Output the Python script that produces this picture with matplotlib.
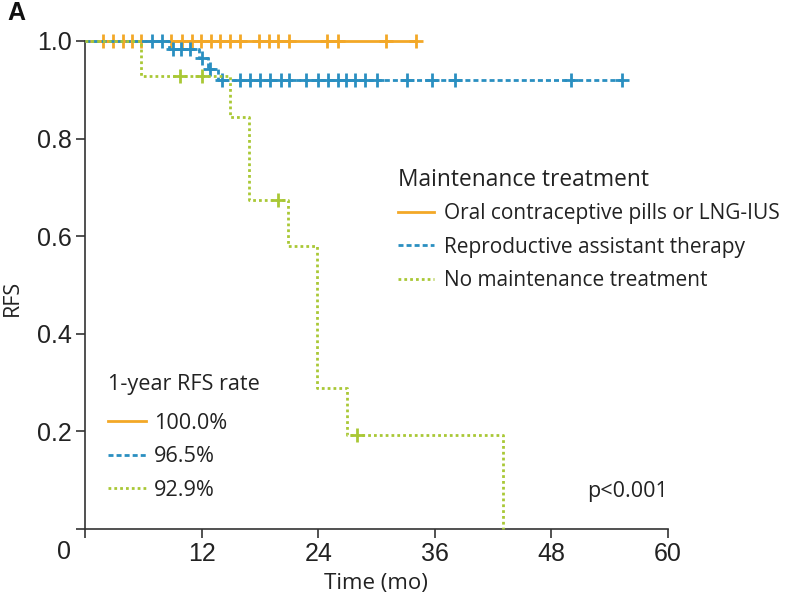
import numpy as np
import matplotlib
matplotlib.use("Agg")
import matplotlib.pyplot as plt
from matplotlib.lines import Line2D

plt.rcParams['lines.scale_dashes'] = False

W, H = 791, 601

# colours
ORANGE = "#F3A827"
BLUE = "#2A8FC1"
GREEN = "#A9C835"

# Kaplan-Meier steps (months, RFS)
orange_t = [0, 34.1]
orange_s = [1.0, 1.0]
orange_cens = [1.9, 2.9, 3.9, 4.8, 5.8, 8.9, 10.0, 11.0, 11.9, 13.0, 13.9, 14.9,
               16.0, 17.9, 18.9, 19.9, 21.0, 24.9, 26.0, 31.0, 34.1]

blue_t = [0, 8.6, 11.7, 12.7, 13.7, 55.3]
blue_s = [1.0, 0.983, 0.965, 0.943, 0.921, 0.921]
blue_cens = [6.9, 7.9, 9.1, 9.9, 10.8, 12.0, 12.9, 14.1, 16.0, 17.0, 18.0, 19.0,
             20.2, 21.0, 22.7, 24.0, 25.0, 26.0, 26.9, 27.8, 28.8, 30.0, 33.1,
             35.7, 38.1, 50.0, 55.3]

green_t = [0, 5.8, 14.9, 16.9, 20.85, 23.9, 27.0, 43.0]
green_s = [1.0, 0.929, 0.844, 0.675, 0.579, 0.289, 0.193, 0.0]
green_cens = [9.8, 12.0, 19.9, 28.0]

group_labels = ["Oral contraceptive pills or LNG-IUS",
                "Reproductive assistant therapy",
                "No maintenance treatment"]
rate_labels = ["100.0%", "96.5%", "92.9%"]

x_ticks = [0, 12, 24, 36, 48, 60]
y_ticks = [0, 0.2, 0.4, 0.6, 0.8, 1.0]


def px(x, y):
    return x / W, 1 - y / H


def surv_at(t, times, surv):
    i = np.searchsorted(times, t, side="right") - 1
    return surv[i]


fig = plt.figure(figsize=(W / 100, H / 100), dpi=100, facecolor="white")
ax = fig.add_axes([85 / W, 1 - 529 / H, (668 - 85) / W, (529 - 41) / H])

styles = [
    (orange_t, orange_s, orange_cens, ORANGE, "-"),
    (blue_t, blue_s, blue_cens, BLUE, (0, (3.6, 2.2))),
    (green_t, green_s, green_cens, GREEN, (0, (2.0, 2.2))),
]
handles = []
for z, (t, s, c, col, ls) in enumerate(styles):
    ax.step(t, s, where="post", color=col, lw=2.0, ls=ls, clip_on=False,
            zorder=3 + z, dash_capstyle="butt", solid_capstyle="butt")
    cy = [surv_at(ci, t, s) for ci in c]
    ax.plot(c, cy, ls="none", marker="+", ms=10, mew=2.0, color=col,
            clip_on=False, zorder=3 + z)
    handles.append(Line2D([], [], color=col, lw=2.0, ls=ls, dash_capstyle="butt"))

ax.set_xlim(0, 60)
ax.set_ylim(0, 1.0)
for sp in ["top", "right"]:
    ax.spines[sp].set_visible(False)
for sp in ["left", "bottom"]:
    ax.spines[sp].set_color("#333333")
    ax.spines[sp].set_linewidth(1.2)

ax.set_xticks(x_ticks)
ax.set_xticklabels([""] + [str(v) for v in x_ticks[1:]])
ax.set_yticks(y_ticks)
ax.set_yticklabels([""] + ["%.1f" % v for v in y_ticks[1:]])
ax.tick_params(direction="out", length=6.5, width=1.2, color="#333333",
               labelsize=18, labelcolor="#222222", pad=3)
for lab in ax.get_xticklabels() + ax.get_yticklabels():
    lab.set_family("Liberation Sans")

fig.text(*px(64, 552), "0", fontsize=18, family="Liberation Sans",
         color="#222222", ha="center", va="center")
fig.text(*px(376, 584), "Time (mo)", fontsize=16, family="Open Sans",
         color="#222222", ha="center", va="center")
fig.text(*px(12, 298), "RFS", fontsize=15.5, family="Open Sans",
         color="#222222", ha="center", va="center", rotation=90)
fig.text(*px(7, 13), "A", fontsize=18, family="Liberation Sans",
         fontweight="bold", color="#111111", ha="left", va="center")
fig.text(*px(668, 492), "p<0.001", fontsize=15.5, family="Open Sans",
         color="#222222", ha="right", va="center")

leg1 = fig.legend(handles, group_labels, title="Maintenance treatment",
                  loc="upper left", bbox_to_anchor=px(398, 168), frameon=False,
                  prop={"family": "Open Sans", "size": 15.0},
                  title_fontproperties={"family": "Open Sans", "size": 16.4},
                  alignment="left", handlelength=1.75, handletextpad=0.45,
                  labelspacing=0.6, borderpad=0, borderaxespad=0)
leg2 = fig.legend(handles, rate_labels, title="1-year RFS rate",
                  loc="upper left", bbox_to_anchor=px(108, 374), frameon=False,
                  prop={"family": "Open Sans", "size": 15.6},
                  title_fontproperties={"family": "Open Sans", "size": 15.6},
                  alignment="left", handlelength=1.75, handletextpad=0.36,
                  labelspacing=0.57, borderpad=0, borderaxespad=0)
leg1._legend_box.sep = 8
leg2._legend_box.sep = 13
for leg in (leg1, leg2):
    for txt in leg.get_texts() + [leg.get_title()]:
        txt.set_color("#222222")

fig.savefig("out.png", dpi=100, facecolor="white")
